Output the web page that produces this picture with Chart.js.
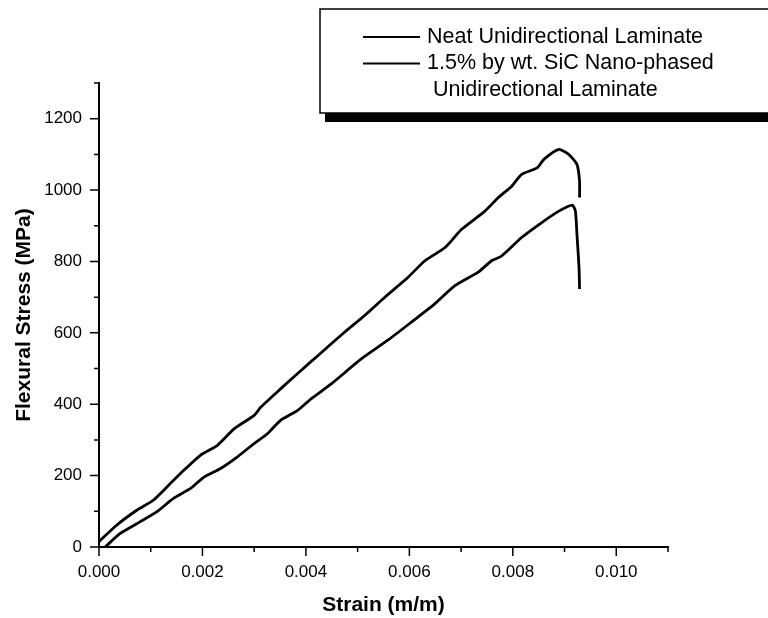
<!DOCTYPE html>
<html>
<head>
<meta charset="utf-8">
<script src="https://cdn.jsdelivr.net/npm/chart.js@4"></script>
<style>
  body { margin: 0; background: #fff; }
  #wrap { width: 768px; height: 618px; }
</style>
</head>
<body>
<div id="wrap"><canvas id="chart" width="768" height="618"></canvas></div>
<script>
// values
const neatStrain = [0, 0.00034, 0.00073, 0.00105, 0.00138, 0.00164, 0.00196, 0.00229, 0.00261, 0.0030, 0.00313, 0.00351, 0.0039, 0.00423, 0.00474, 0.00513, 0.00552, 0.00597, 0.0063, 0.00669, 0.00701, 0.00746, 0.00772, 0.00798, 0.00817, 0.00847, 0.0086, 0.00889, 0.00908, 0.00924, 0.00929, 0.00929];
const neatStress = [15, 61, 103, 131, 178, 215, 257, 285, 331, 369, 392, 443, 494, 536, 601, 648, 699, 755, 802, 839, 890, 941, 979, 1011, 1044, 1062, 1086, 1114, 1100, 1072, 1025, 979];

const sicStrain = [0.00012, 0.00041, 0.0008, 0.00112, 0.00144, 0.00177, 0.00203, 0.00235, 0.00267, 0.0030, 0.00326, 0.00351, 0.00384, 0.0041, 0.00449, 0.00507, 0.00559, 0.00604, 0.00649, 0.00688, 0.00733, 0.00759, 0.00779, 0.00817, 0.00856, 0.00889, 0.00915, 0.00921, 0.00924, 0.00928, 0.00929];
const sicStress = [0, 38, 71, 99, 136, 164, 196, 220, 252, 290, 318, 355, 383, 415, 457, 527, 580, 630, 681, 732, 770, 802, 816, 867, 909, 941, 958, 941, 876, 783, 723];

const seriesLabels = ['Neat Unidirectional Laminate', '1.5% by wt. SiC Nano-phased\n Unidirectional Laminate'];
const xTitle = 'Strain (m/m)';
const yTitle = 'Flexural Stress (MPa)';

const FONT = '"Liberation Sans", Arial, Helvetica, sans-serif';

function toPoints(xs, ys) {
  return xs.map((x, i) => ({ x: x, y: ys[i] }));
}

// short minor ticks, long major ticks (Chart.js has no minor ticks)
const tickMarks = {
  id: 'tickMarks',
  afterDraw(chart) {
    const ctx = chart.ctx;
    const xs = chart.scales.x;
    const ys = chart.scales.y;
    ctx.save();
    ctx.strokeStyle = '#000';
    ctx.lineWidth = 1.5;
    ctx.beginPath();
    xs.ticks.forEach(t => {
      const px = xs.getPixelForValue(t.value);
      const len = Math.round(t.value * 1000) % 2 === 0 ? 9 : 5;
      ctx.moveTo(px, xs.top);
      ctx.lineTo(px, xs.top + len);
    });
    ys.ticks.forEach(t => {
      const py = ys.getPixelForValue(t.value);
      const len = Math.round(t.value) % 200 === 0 ? 9 : 5;
      ctx.moveTo(ys.right, py);
      ctx.lineTo(ys.right - len, py);
    });
    ctx.stroke();
    ctx.restore();
  }
};

// boxed legend with drop shadow, as in the original figure
const boxLegend = {
  id: 'boxLegend',
  afterDraw(chart) {
    const ctx = chart.ctx;
    ctx.save();
    ctx.fillStyle = '#000';
    ctx.fillRect(325, 113, 460, 9);
    ctx.strokeStyle = '#000';
    ctx.lineWidth = 1.5;
    ctx.strokeRect(320, 9, 470, 104);

    ctx.font = '21.5px ' + FONT;
    ctx.textBaseline = 'middle';
    let row = 0;
    chart.data.datasets.forEach(ds => {
      const lines = ds.label.split('\n');
      lines.forEach((txt, i) => {
        const y = 37 + row * 26.5;
        if (i === 0) {
          ctx.lineWidth = 2;
          ctx.beginPath();
          ctx.moveTo(363, y);
          ctx.lineTo(420, y);
          ctx.stroke();
        }
        ctx.fillText(txt, 427, y);
        row++;
      });
    });
    ctx.restore();
  }
};

new Chart(document.getElementById('chart'), {
  type: 'scatter',
  data: {
    datasets: [
      {
        label: seriesLabels[0],
        data: toPoints(neatStrain, neatStress),
        showLine: true,
        borderColor: '#000',
        borderWidth: 2.8,
        pointRadius: 0,
        tension: 0.2
      },
      {
        label: seriesLabels[1],
        data: toPoints(sicStrain, sicStress),
        showLine: true,
        borderColor: '#000',
        borderWidth: 2.8,
        pointRadius: 0,
        tension: 0.2
      }
    ]
  },
  options: {
    responsive: false,
    animation: false,
    layout: { padding: { top: 83, right: 100, left: 0, bottom: 0 } },
    plugins: {
      legend: { display: false },
      tooltip: { enabled: false }
    },
    scales: {
      x: {
        type: 'linear',
        min: 0,
        max: 0.011,
        afterFit: s => { s.height = 71; },
        border: { display: true, color: '#000', width: 2 },
        grid: { drawOnChartArea: false, drawTicks: true, tickLength: 9, tickColor: 'rgba(0,0,0,0)' },
        ticks: {
          stepSize: 0.001,
          autoSkip: false,
          maxRotation: 0,
          padding: 6,
          color: '#000',
          font: { family: FONT, size: 17 },
          callback: v => {
            const i = Math.round(v * 1000);
            return (i % 2 === 0 && i <= 10) ? (i / 1000).toFixed(3) : '';
          }
        },
        title: {
          display: true,
          text: xTitle,
          color: '#000',
          font: { family: FONT, size: 21, weight: 'bold' },
          padding: { top: 0, bottom: 0 }
        }
      },
      y: {
        min: 0,
        max: 1300,
        afterFit: s => { s.width = 99; },
        border: { display: true, color: '#000', width: 2 },
        grid: { drawOnChartArea: false, drawTicks: true, tickLength: 9, tickColor: 'rgba(0,0,0,0)' },
        ticks: {
          stepSize: 100,
          autoSkip: false,
          padding: 8,
          color: '#000',
          font: { family: FONT, size: 17 },
          callback: v => (v % 200 === 0 ? v : '')
        },
        title: {
          display: true,
          text: yTitle,
          color: '#000',
          font: { family: FONT, size: 21, weight: 'bold' },
          padding: { top: 12, bottom: 0 }
        }
      }
    }
  },
  plugins: [tickMarks, boxLegend]
});
</script>
</body>
</html>
